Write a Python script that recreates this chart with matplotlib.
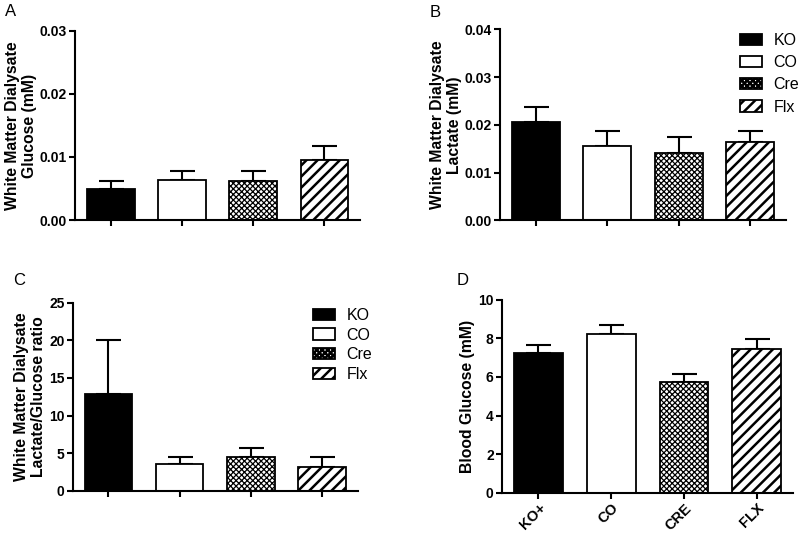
import numpy as np
import matplotlib
matplotlib.use("Agg")
import matplotlib.pyplot as plt

plt.rcParams["font.family"] = ["Liberation Sans", "DejaVu Sans"]
plt.rcParams["hatch.linewidth"] = 1.8

# Data
groups = ["KO", "CO", "Cre", "Flx"]
d_labels = ["KO+", "CO", "CRE", "FLX"]

glucose = [0.0050, 0.0063, 0.0062, 0.0096]
glucose_err = [0.0012, 0.0014, 0.0016, 0.0022]

lactate = [0.0206, 0.0156, 0.0142, 0.0165]
lactate_err = [0.0032, 0.0032, 0.0032, 0.0023]

ratio = [12.9, 3.6, 4.45, 3.16]
ratio_err = [7.2, 0.9, 1.3, 1.3]

blood = [7.24, 8.21, 5.74, 7.43]
blood_err = [0.40, 0.49, 0.43, 0.55]

colors = ["black", "white", "white", "white"]
hatches = [None, None, "xxxxxx", "///"]
hatch_lw = [1.0, 1.0, 0.9, 1.8]

fig = plt.figure(figsize=(8, 5.34), dpi=100)


def panel(rect, vals, errs, ylim, yticks, yfmt, ylabel, xlabels=None):
    ax = fig.add_axes(rect)
    x = np.arange(len(vals))
    ax.errorbar(x, vals, yerr=[np.zeros(len(vals)), errs], fmt="none",
                ecolor="black", elinewidth=1.5, capsize=9, capthick=1.5, zorder=1)
    bars = ax.bar(x, vals, width=0.67, color=colors, edgecolor="black",
                  linewidth=1.3, zorder=2)
    for b, h, hl in zip(bars, hatches, hatch_lw):
        if h:
            b.set_hatch(h)
            if hasattr(b, "set_hatch_linewidth"):
                b.set_hatch_linewidth(hl)
    ax.set_xlim(-0.5, 3.5)
    ax.set_ylim(*ylim)
    ax.set_yticks(yticks)
    ax.set_yticklabels([yfmt.format(t) for t in yticks], fontweight="bold", fontsize=10)
    ax.set_xticks(x)
    if xlabels:
        ax.set_xticklabels(xlabels, rotation=45, ha="right", rotation_mode="anchor",
                           fontweight="bold", fontsize=10.5)
    else:
        ax.set_xticklabels([])
    for s in ["top", "right"]:
        ax.spines[s].set_visible(False)
    for s in ["left", "bottom"]:
        ax.spines[s].set_linewidth(1.5)
    ax.tick_params(width=1.5, length=4, pad=2)
    ax.set_ylabel(ylabel, fontweight="bold", fontsize=11.3, labelpad=2, linespacing=1.15)
    return ax, bars


axA, _ = panel([0.094, 0.588, 0.356, 0.354], glucose, glucose_err, (0, 0.03),
               [0, 0.01, 0.02, 0.03], "{:.2f}",
               "White Matter Dialysate\nGlucose (mM)")
axB, barsB = panel([0.625, 0.5875, 0.3575, 0.3575], lactate, lactate_err, (0, 0.04),
                   [0, 0.01, 0.02, 0.03, 0.04], "{:.2f}",
                   "White Matter Dialysate\nLactate (mM)")
axC, barsC = panel([0.091, 0.081, 0.356, 0.352], ratio, ratio_err, (0, 25),
                   [0, 5, 10, 15, 20, 25], "{:g}",
                   "White Matter Dialysate\nLactate/Glucose ratio")
axD, _ = panel([0.6275, 0.0773, 0.364, 0.3615], blood, blood_err, (0, 10),
               [0, 2, 4, 6, 8, 10], "{:g}",
               "Blood Glucose (mM)", xlabels=d_labels)

axB.legend(handles=list(barsB), labels=groups, loc="upper left",
           bbox_to_anchor=(0.925, 0.938), bbox_transform=fig.transFigure,
           frameon=False, fontsize=11.5, handlelength=1.4, handleheight=0.7,
           handletextpad=0.7, labelspacing=0.45, borderpad=0, borderaxespad=0)
axC.legend(handles=list(barsC), labels=groups, loc="upper left",
           bbox_to_anchor=(0.391, 0.4235), bbox_transform=fig.transFigure,
           frameon=False, fontsize=11.5, handlelength=1.4, handleheight=0.7,
           handletextpad=0.7, labelspacing=0.3, borderpad=0, borderaxespad=0)

for lbl, x, y in [("A", 0.006, 0.992), ("B", 0.5375, 0.99), ("C", 0.017, 0.488), ("D", 0.571, 0.488)]:
    fig.text(x, y, lbl, fontsize=12, va="top", ha="left")

fig.savefig("out.png", dpi=100)
